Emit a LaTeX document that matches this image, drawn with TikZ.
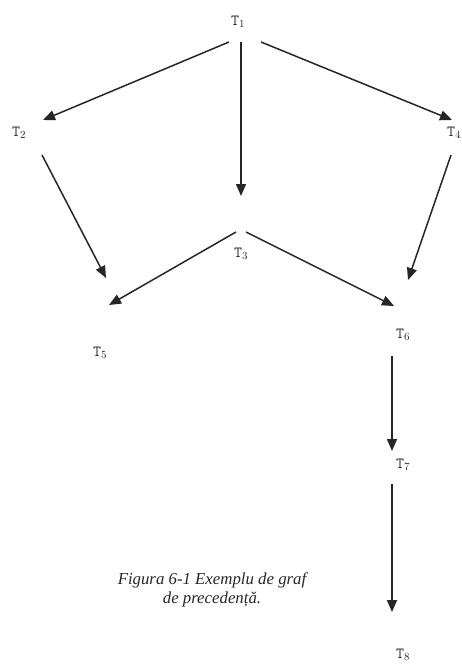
\documentclass[tikz,border=0pt]{standalone}
\usepackage{fontspec}
\newfontfamily\capfont{Liberation Serif}
\usetikzlibrary{arrows.meta}
\begin{document}
\begin{tikzpicture}[x=1pt,y=-1pt,
  task/.style={font=\ttfamily\fontsize{15.5}{17}\selectfont, inner sep=0pt, text=black!85},
  arr/.style={draw=black!85, line width=1.5pt, -{Triangle[length=12pt,width=10pt]}}]
\useasboundingbox (0,0) rectangle (462,666);
\node[task] (t1) at (238,22) {T$_1$};
\node[task] (t2) at (19,133) {T$_2$};
\node[task] (t4) at (454,133) {T$_4$};
\node[task] (t3) at (241,254) {T$_3$};
\node[task] (t5) at (100,353) {T$_5$};
\node[task] (t6) at (403,335) {T$_6$};
\node[task] (t7) at (403,465) {T$_7$};
\node[task] (t8) at (403,655) {T$_8$};
\node[font=\capfont\itshape\fontsize{16.8}{19}\selectfont, align=center, text=black!85] (cap) at (212,590)
  {Figura 6-1 Exemplu de graf\\de precedență.};
% anchor coordinates of connectors
\coordinate (a1) at (229,42);  \coordinate (b1) at (43,120);
\coordinate (a2) at (241,42);  \coordinate (b2) at (241,196);
\coordinate (a3) at (261,42);  \coordinate (b3) at (452,120);
\coordinate (a4) at (42,155);  \coordinate (b4) at (106,278);
\coordinate (a5) at (451,155); \coordinate (b5) at (408,280);
\coordinate (a6) at (236,232); \coordinate (b6) at (109,305);
\coordinate (a7) at (246,232); \coordinate (b7) at (394,306);
\coordinate (a8) at (392,356); \coordinate (b8) at (392,451);
\coordinate (a9) at (392,484); \coordinate (b9) at (392,612);
\draw[arr] (a1) -- (b1);
\draw[arr] (a2) -- (b2);
\draw[arr] (a3) -- (b3);
\draw[arr] (a4) -- (b4);
\draw[arr] (a5) -- (b5);
\draw[arr] (a6) -- (b6);
\draw[arr] (a7) -- (b7);
\draw[arr] (a8) -- (b8);
\draw[arr] (a9) -- (b9);
\end{tikzpicture}
\end{document}
